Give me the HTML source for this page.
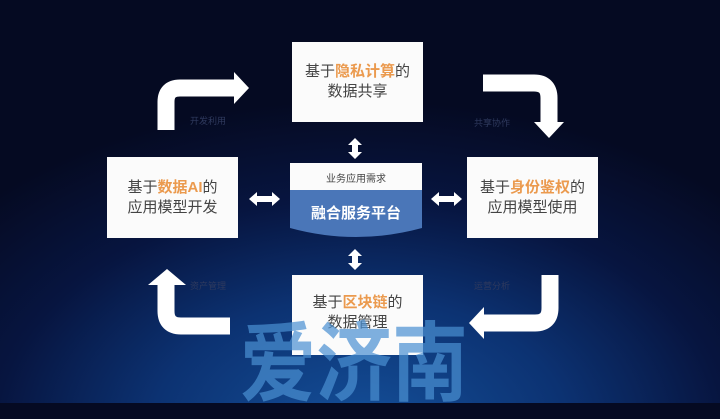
<!DOCTYPE html>
<html><head><meta charset="utf-8"><style>
html,body{margin:0;padding:0}
body{width:720px;height:403px;overflow:hidden;position:relative;
background:radial-gradient(ellipse 520px 330px at 360px 430px,#14509a 0%,#0c3272 40%,#071540 70%,#050a22 100%);
font-family:"Liberation Sans","Noto Sans CJK SC",sans-serif}
.box{position:absolute;background:#fbfbfb;color:#444;font-size:15px;line-height:20px;text-align:center;display:flex;flex-direction:column;justify-content:center}
.o{color:#eb9a4e;font-weight:bold}
.lbl{position:absolute;font-size:9px;color:#2f3a5e}
.wm{position:absolute;left:240px;top:310px;font-size:76px;font-weight:bold;color:#4a90d2;opacity:.7;line-height:80px;font-family:"Noto Sans CJK SC",sans-serif;white-space:nowrap;transform:scaleY(1.15);transform-origin:top left}
</style></head><body>
<div class="box" style="left:292px;top:42px;width:131px;height:80px"><div>基于<span class="o">隐私计算</span>的</div><div>数据共享</div></div>
<div class="box" style="left:107px;top:157px;width:131px;height:81px"><div>基于<span class="o">数据AI</span>的</div><div>应用模型开发</div></div>
<div class="box" style="left:467px;top:157px;width:131px;height:81px"><div>基于<span class="o">身份鉴权</span>的</div><div>应用模型使用</div></div>
<div class="box" style="left:292px;top:275px;width:131px;height:80px;justify-content:flex-start"><div style="margin-top:18px">基于<span class="o">区块链</span>的</div><div>数据管理</div></div>

<svg style="position:absolute;left:0;top:0" width="720" height="403">
<path d="M290,163 H422 V190 H290 Z" fill="#fbfbfb"/>
<path d="M290,190 H422 V228 Q356,246 290,228 Z" fill="#4a76b8"/>
<text x="356" y="182" font-size="10" fill="#444" text-anchor="middle" font-family="Liberation Sans,Noto Sans CJK SC,sans-serif">业务应用需求</text>
<text x="356" y="218" font-size="15" font-weight="bold" fill="#fff" text-anchor="middle" font-family="Liberation Sans,Noto Sans CJK SC,sans-serif">融合服务平台</text>
<g fill="none" stroke="#fff" stroke-width="17">
<path d="M166,130 V102 Q166,88 180,88 H236"/>
<path d="M483,83 H534 Q549,83 549,98 V124"/>
<path d="M550,275 V308 Q550,323 535,323 H482"/>
<path d="M166,284 V311 Q166,326 181,326 H230"/>
</g>
<g fill="#fff">
<polygon points="234,72 249,88 234,104"/>
<polygon points="534,122 564,122 549,138"/>
<polygon points="484,307 484,339 469,323"/>
<polygon points="148,285 186,285 167,269"/>
<path d="M355,138 l7,7 h-4 v7 h4 l-7,7 l-7,-7 h4 v-7 h-4 z"/>
<path d="M355,249 l7,7 h-4 v7 h4 l-7,7 l-7,-7 h4 v-7 h-4 z"/>
<path d="M249,199 l8,-7 v4 h15 v-4 l8,7 l-8,7 v-4 h-15 v4 z"/>
<path d="M431,199 l8,-7 v4 h15 v-4 l8,7 l-8,7 v-4 h-15 v4 z"/>
</g>
</svg>
<div class="lbl" style="left:190px;top:114px">开发利用</div>
<div class="lbl" style="left:474px;top:116px">共享协作</div>
<div class="lbl" style="left:190px;top:279px">资产管理</div>
<div class="lbl" style="left:474px;top:279px">运营分析</div>
<div class="wm">爱济南</div>
</body></html>
